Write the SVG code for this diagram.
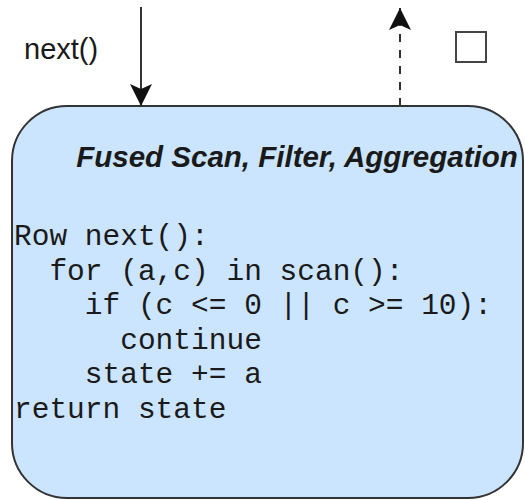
<svg xmlns="http://www.w3.org/2000/svg" width="525" height="500" viewBox="0 0 525 500">
  <style>
    .label { font-family: "Liberation Sans", Arial, sans-serif; font-size: 29px; fill: #1a1a1a; }
    .title { font-family: "Liberation Sans", Arial, sans-serif; font-size: 29.5px; font-weight: bold; font-style: italic; fill: #1a1a1a; }
    .code { font-family: "Liberation Mono", "Courier New", monospace; font-size: 29.5px; fill: #1a1a1a; white-space: pre; }
    .edge { fill: none; stroke: #333333; stroke-width: 2; }
  </style>
  <defs>
    <marker id="arrow" viewBox="0 0 22 22" refX="22" refY="11" markerWidth="22" markerHeight="22" markerUnits="userSpaceOnUse" orient="auto">
      <path d="M0,0 L22,11 L0,22 L5,11 Z" fill="#111111"/>
    </marker>
  </defs>

  <!-- fused operator box -->
  <g id="fused-operator">
    <rect x="12" y="106" width="511" height="392" rx="55" ry="55" fill="#cce5ff" stroke="#333333" stroke-width="2"/>
    <text class="title" x="297" y="167" text-anchor="middle">Fused Scan, Filter, Aggregation</text>
    <text class="code" x="14" y="245">Row next():</text>
    <text class="code" x="14" y="279.5">  for (a,c) in scan():</text>
    <text class="code" x="14" y="314">    if (c &lt;= 0 || c &gt;= 10):</text>
    <text class="code" x="14" y="348.5">      continue</text>
    <text class="code" x="14" y="383">    state += a</text>
    <text class="code" x="14" y="417.5">return state</text>
  </g>

  <!-- call label -->
  <g id="next-label">
    <text class="label" x="24" y="59">next()</text>
  </g>

  <!-- result placeholder -->
  <g id="result-box">
    <rect x="456" y="32" width="30" height="30" fill="#ffffff" stroke="#444444" stroke-width="2"/>
  </g>

  <g id="connectors">
    <path class="edge" d="M141,7 L141,106" marker-end="url(#arrow)"/>
    <path class="edge" d="M400,106 L400,8" stroke-dasharray="8 8" marker-end="url(#arrow)"/>
  </g>
</svg>
